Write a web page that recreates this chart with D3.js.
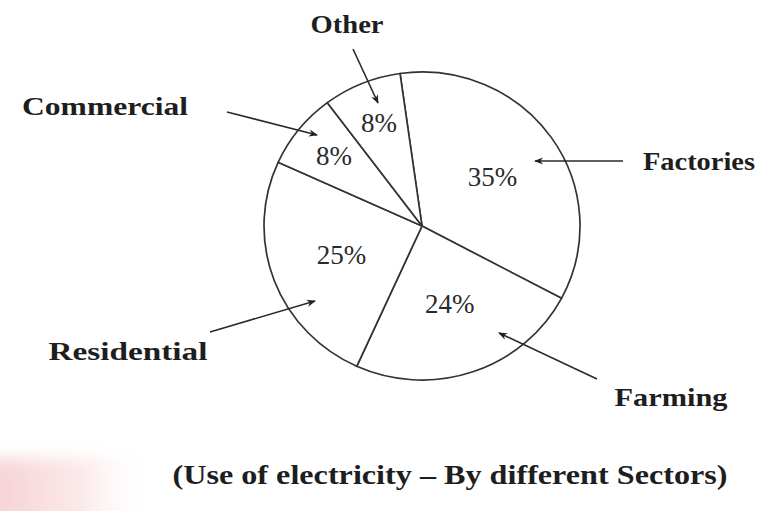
<!DOCTYPE html>
<meta charset="utf-8">
<html>
<head>
<style>
  body { margin: 0; background: #fff; }
  svg { display: block; }
  .pct { font-family: "Liberation Serif", "DejaVu Serif", serif; font-size: 27px; fill: #2a2a2a; }
  .cat { font-family: "Liberation Serif", "DejaVu Serif", serif; font-weight: bold; font-size: 26px; fill: #1e1e1e; }
</style>
</head>
<script src="https://d3js.org/d3.v7.min.js"></script>
<body>
<div id="vis"></div>
<script>
  // data
  var sectors = ["Factories", "Farming", "Residential", "Commercial", "Other"];
  var shares = [35, 24, 25, 8, 8];
  var title = "(Use of electricity \u2013 By different Sectors)";

  var width = 759, height = 511;
  var cx = 422, cy = 226, radius = 158;

  // where the sector names sit and where their arrows point
  var callouts = {
    "Factories":   {tx: 699, ty: 170, w: 112, from: [623, 161], to: [535, 161]},
    "Farming":     {tx: 671, ty: 406, w: 113, from: [597, 379], to: [499, 333]},
    "Residential": {tx: 128, ty: 360, w: 159, from: [210, 332], to: [315, 301]},
    "Commercial":  {tx: 105, ty: 115, w: 166, from: [227, 112], to: [317, 135]},
    "Other":       {tx: 347, ty: 33,  w: 73,  from: [353, 49],  to: [378, 103]}
  };

  var rows = sectors.map(function(s, i) { return {sector: s, value: shares[i]}; });

  var svg = d3.select("#vis").append("svg")
    .attr("width", width)
    .attr("height", height);

  // pink smudge from the scan
  var defs = svg.append("defs");
  var grad = defs.append("linearGradient").attr("id", "smudge");
  grad.append("stop").attr("offset", "0%").attr("stop-color", "#f3bcc0").attr("stop-opacity", 0.7);
  grad.append("stop").attr("offset", "55%").attr("stop-color", "#f7d6d8").attr("stop-opacity", 0.55);
  grad.append("stop").attr("offset", "100%").attr("stop-color", "#ffffff").attr("stop-opacity", 0);
  defs.append("filter").attr("id", "blur")
    .attr("x", "-20%").attr("y", "-40%").attr("width", "140%").attr("height", "180%")
    .append("feGaussianBlur").attr("stdDeviation", 8);
  svg.append("rect")
    .attr("x", -10).attr("y", 458).attr("width", 165).attr("height", 70)
    .attr("fill", "url(#smudge)")
    .attr("filter", "url(#blur)");

  defs.append("marker")
    .attr("id", "head")
    .attr("viewBox", "0 0 10 10")
    .attr("refX", 9).attr("refY", 5)
    .attr("markerWidth", 9).attr("markerHeight", 9)
    .attr("markerUnits", "userSpaceOnUse")
    .attr("orient", "auto")
    .append("path")
    .attr("d", "M0,1 L10,5 L0,9 L3,5 Z")
    .attr("fill", "#222");

  var start = -8 * Math.PI / 180;
  var pie = d3.pie().sort(null).value(function(d) { return d.value; })
    .startAngle(start).endAngle(start + 2 * Math.PI);
  var arcs = pie(rows);

  var arc = d3.arc().innerRadius(0).outerRadius(radius);

  var g = svg.append("g")
    .attr("transform", "translate(" + cx + "," + cy + ") scale(1,0.975)");

  g.selectAll("path.slice")
    .data(arcs)
    .enter().append("path")
    .attr("class", "slice")
    .attr("d", arc)
    .attr("fill", "#fff")
    .attr("stroke", "#333")
    .attr("stroke-width", 1.7)
    .attr("stroke-linejoin", "round");

  // percentage labels: small slices get pushed further out
  g.selectAll("text.pct")
    .data(arcs)
    .enter().append("text")
    .attr("class", "pct")
    .attr("text-anchor", "middle")
    .attr("dy", "0.3em")
    .attr("transform", function(d) {
      var r = d.data.value < 10 ? 113 : 86;
      var c = d3.arc().innerRadius(r).outerRadius(r).centroid(d);
      return "translate(" + c[0] + "," + c[1] + ") scale(1," + (1 / 0.975) + ")";
    })
    .text(function(d) { return d.data.value + "%"; });

  // sector names and arrows
  var notes = svg.append("g");
  rows.forEach(function(d) {
    var c = callouts[d.sector];
    notes.append("line")
      .attr("x1", c.from[0]).attr("y1", c.from[1])
      .attr("x2", c.to[0]).attr("y2", c.to[1])
      .attr("stroke", "#2a2a2a")
      .attr("stroke-width", 1.6)
      .attr("marker-end", "url(#head)");
    notes.append("text")
      .attr("class", "cat")
      .attr("x", c.tx).attr("y", c.ty)
      .attr("text-anchor", "middle")
      .attr("textLength", c.w)
      .attr("lengthAdjust", "spacingAndGlyphs")
      .text(d.sector);
  });

  svg.append("text")
    .attr("class", "cat")
    .attr("x", 450).attr("y", 484)
    .attr("text-anchor", "middle")
    .attr("textLength", 555)
    .attr("lengthAdjust", "spacingAndGlyphs")
    .style("font-size", "28px")
    .text(title);
</script>
</body>
</html>
